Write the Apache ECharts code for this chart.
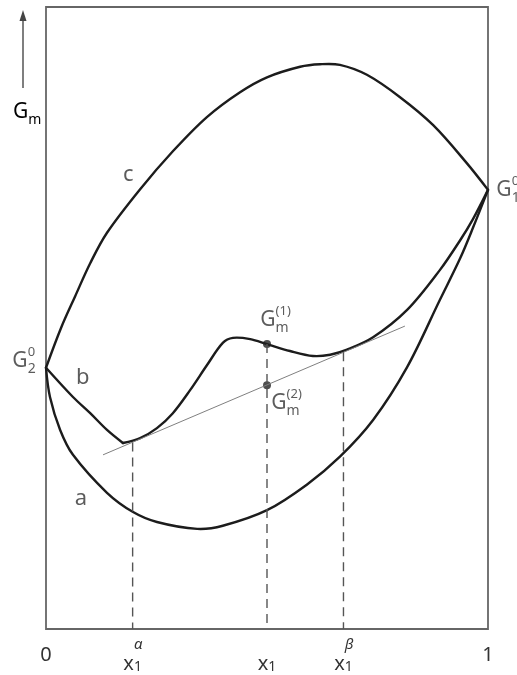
<!DOCTYPE html>
<html>
<head>
<meta charset="utf-8">
<title>Molar Gibbs energy of mixing</title>
<script src="https://cdn.jsdelivr.net/npm/echarts@6/dist/echarts.min.js"></script>
<style>
  html, body { margin: 0; padding: 0; background: #fff; }
  #chart { width: 517px; height: 675px; }
</style>
</head>
<body>
<div id="chart"></div>
<script>
// Compositions marked on the x axis
const xAlpha = 0.196;
const xMid = 0.5;
const xBeta = 0.673;

// Tick labels on the composition axis
const tickValues = [0, xAlpha, xMid, xBeta, 1];
const tickMain = ['0', 'x', 'x', 'x', '1'];
const tickSup = ['', 'α', '', 'β', ''];
const tickSub = ['', '1', '1', '1', ''];

// Curve c: positive mixing energy (upper arch)
const curveC = [[0, 42.0], [0.034, 48.4], [0.066, 53.5], [0.1, 58.8], [0.138, 63.7], [0.213, 70.7],
  [0.287, 76.8], [0.364, 82.3], [0.439, 86.3], [0.5, 88.7], [0.575, 90.4], [0.62, 90.8],
  [0.665, 90.7], [0.726, 89.1], [0.801, 85.5], [0.876, 81.0], [0.952, 74.9], [1, 70.6]];

// Curve a: single-phase, everywhere convex
const curveA = [[0, 42.0], [0.009, 37.3], [0.032, 32.0], [0.061, 28.0], [0.138, 21.9], [0.197, 18.8],
  [0.251, 17.2], [0.342, 16.1], [0.4, 16.6], [0.5, 19.1], [0.59, 23.2], [0.665, 27.7],
  [0.74, 33.6], [0.817, 42.1], [0.891, 52.9], [0.937, 59.6], [0.966, 64.5], [1, 70.6]];

// Curve b: left branch down to the cusp, then the wavy right branch
const curveBLeft = [[0, 42.0], [0.061, 37.3], [0.1, 34.7], [0.138, 32.0], [0.174, 29.9]];
const curveBRight = [[0.174, 29.9], [0.213, 30.7], [0.251, 32.3], [0.287, 34.7], [0.326, 38.4],
  [0.364, 42.4], [0.4, 46.0], [0.423, 46.8], [0.462, 46.6], [0.5, 45.8], [0.552, 44.7],
  [0.604, 43.9], [0.643, 44.1], [0.681, 44.9], [0.74, 46.9], [0.817, 51.3], [0.891, 57.7],
  [0.937, 62.5], [0.966, 65.9], [1, 70.6]];

// Common tangent touching b at x1^alpha and x1^beta
const tangent = [[0.129, 28.0], [0.812, 48.7]];

// Points on b and on the tangent at x1
const gm1 = [xMid, 45.8];
const gm2 = [xMid, 39.2];

// Upper ends of the dashed drop lines
const dropTops = [[xAlpha, 30.0], [xMid, 45.8], [xBeta, 44.5]];

// Pure-component energies
const g2 = [0, 42.0];
const g1 = [1, 70.6];

// Curve name labels
const curveNames = [['c', 0.186, 73.0], ['b', 0.083, 40.4], ['a', 0.079, 20.9]];

const FONT = '"Noto Sans", "DejaVu Sans", sans-serif';
const INK = '#1c1c1c';
const TXT = '#333';

// Symbol with a stacked superscript and subscript (zero-width superscript token)
function symbolRich() {
  return {
    h: { fontSize: 10, lineHeight: 30, width: 0, align: 'left' },
    g: { fontSize: 21, fontFamily: FONT, color: TXT, verticalAlign: 'middle', align: 'left' },
    sup: { fontSize: 13, fontFamily: FONT, color: TXT, lineHeight: 16, verticalAlign: 'top', width: 0, align: 'left' },
    sub: { fontSize: 14, fontFamily: FONT, color: TXT, lineHeight: 10, verticalAlign: 'bottom', align: 'left' }
  };
}
function symbolText(main, sup, sub) {
  return '{h| }{g|' + main + '}' + (sup ? '{sup|' + sup + '}' : '') + (sub ? '{sub|' + sub + '}' : '');
}

// Smooth curve drawn as one polyline through the axis-converted points
function curve(data) {
  return {
    type: 'custom', data: data, silent: true,
    renderItem: function (params, api) {
      if (params.dataIndex !== 0) return null;
      return {
        type: 'polyline',
        shape: { points: data.map(function (p) { return api.coord(p); }), smooth: 0.34 },
        style: { stroke: INK, lineWidth: 2.4, fill: null, lineJoin: 'round', lineCap: 'round' }
      };
    }
  };
}
function drop(top) {
  return {
    type: 'line', data: [top, [top[0], 0]], symbol: 'none', silent: true,
    lineStyle: { color: '#555', width: 1.4, type: [9, 6] }
  };
}

const chart = echarts.init(document.getElementById('chart'), null, { renderer: 'canvas' });

chart.setOption({
  animation: false,
  backgroundColor: '#fff',
  grid: {
    left: 46, right: 29, top: 7, bottom: 46,
    show: true, borderColor: '#666', borderWidth: 1.8, backgroundColor: 'transparent'
  },
  xAxis: {
    type: 'value', min: 0, max: 1,
    axisLine: { show: false }, axisTick: { show: false }, splitLine: { show: false },
    axisLabel: {
      customValues: tickValues,
      margin: 8,
      formatter: function (val) {
        const i = tickValues.findIndex(function (v) { return Math.abs(v - val) < 1e-6; });
        if (i < 0) return '';
        if (tickMain[i] !== 'x') return '{h| }{n|' + tickMain[i] + '}';
        return '{h| }{x|x}' + (tickSup[i] ? '{sup|' + tickSup[i] + '}' : '') + '{sub|' + tickSub[i] + '}';
      },
      rich: {
        h: { fontSize: 10, lineHeight: 37, width: 0, align: 'left' },
        n: { fontSize: 20, fontFamily: FONT, color: TXT, lineHeight: 20, verticalAlign: 'middle', align: 'left' },
        x: { fontSize: 20, fontFamily: FONT, color: TXT, lineHeight: 24, verticalAlign: 'bottom', align: 'left' },
        sup: { fontSize: 15, fontFamily: FONT, color: TXT, fontStyle: 'italic', lineHeight: 16, verticalAlign: 'top', width: 0, align: 'left' },
        sub: { fontSize: 14, fontFamily: FONT, color: TXT, lineHeight: 12, verticalAlign: 'bottom', align: 'left' }
      }
    }
  },
  yAxis: {
    type: 'value', min: 0, max: 100, show: false
  },
  graphic: [
    { type: 'line', shape: { x1: 23, y1: 88, x2: 23, y2: 18 }, style: { stroke: '#555', lineWidth: 1.5 } },
    { type: 'polygon', shape: { points: [[23, 10], [19.5, 21], [26.5, 21]] }, style: { fill: '#444' } },
    {
      type: 'text', x: 13, y: 112,
      style: { text: symbolText('G', '', 'm'), rich: symbolRich(), align: 'left', verticalAlign: 'middle' }
    }
  ],
  series: [
    curve(curveC),
    curve(curveA),
    curve(curveBLeft),
    curve(curveBRight),
    {
      type: 'line', data: tangent, symbol: 'none', silent: true,
      lineStyle: { color: '#808080', width: 1 }
    },
    drop(dropTops[0]),
    drop(dropTops[1]),
    drop(dropTops[2]),
    {
      type: 'scatter', symbol: 'circle', symbolSize: 8, silent: true,
      itemStyle: { color: '#222' },
      data: [
        { value: gm1, label: { show: true, position: 'inside', offset: [7.5, -24.5], formatter: symbolText('G', '(1)', 'm'), rich: symbolRich() } },
        { value: gm2, label: { show: true, position: 'inside', offset: [18.5, 18], formatter: symbolText('G', '(2)', 'm'), rich: symbolRich() } }
      ]
    },
    {
      type: 'scatter', symbolSize: 0, silent: true, clip: false,
      data: [
        { value: g2, label: { show: true, position: 'inside', offset: [-22, -7], formatter: symbolText('G', '0', '2'), rich: symbolRich() } },
        { value: g1, label: { show: true, position: 'inside', offset: [20, 0], formatter: symbolText('G', '0', '1'), rich: symbolRich() } }
      ].concat(curveNames.map(function (c) {
        return {
          value: [c[1], c[2]],
          label: { show: true, position: 'inside', formatter: c[0], fontSize: 22, fontFamily: FONT, color: TXT }
        };
      }))
    }
  ]
});
</script>
</body>
</html>
